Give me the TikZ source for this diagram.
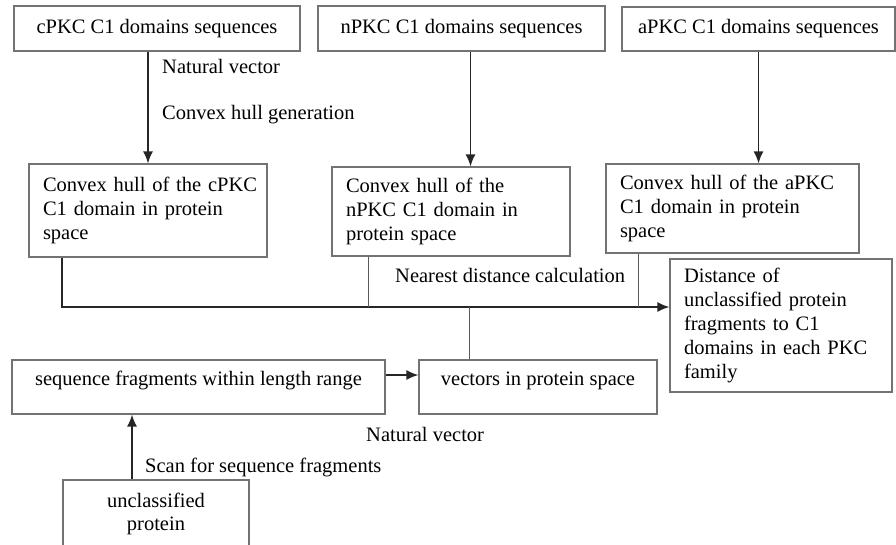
\documentclass[tikz,border=0pt]{standalone}
\usepackage{fontspec}
\setmainfont{Liberation Serif}
\usetikzlibrary{arrows.meta,calc}

\begin{document}
\begin{tikzpicture}[x=1pt,y=-1pt,font=\fontsize{20.5}{23.8}\selectfont,
  box/.style={draw=black!55,line width=1.1pt,inner xsep=14pt,inner ysep=0pt},
  lowtext/.style={text height=14pt,text depth=18pt},
  arr/.style={draw=black!85,line width=1.6pt,-{Latex[length=12pt,width=10pt]}},
  drop/.style={draw=black!65,line width=1pt},
  lbl/.style={anchor=base west,inner sep=0pt}]

\useasboundingbox (0,0) rectangle (896,544);
\clip (0,0) rectangle (896,544);

\begin{scope}
\node[box,minimum width=286,minimum height=45] (cseq) at (157,28.5) {cPKC C1 domains sequences};
\node[box,minimum width=287,minimum height=45] (nseq) at (461.5,28.5) {nPKC C1 domains sequences};
\node[box,minimum width=273,minimum height=44] (aseq) at (758.5,29) {aPKC C1 domains sequences};

\node[box,align=left,text width=210pt,minimum height=93] (chull) at (148,210.5)
  {\mbox{Convex hull of the cPKC}\\C1 domain in protein\\space};
\node[box,align=left,text width=210pt,minimum height=89] (nhull) at (451,211.5)
  {Convex hull of the\\nPKC C1 domain in\\protein space};
\node[box,align=left,text width=225pt,minimum height=89] (ahull) at (732.5,208.5)
  {\mbox{Convex hull of the aPKC}\\C1 domain in protein\\space};
\node[box,align=left,text width=194pt,minimum height=133] (dist) at (781,325.5)
  {Distance of\\unclassified protein\\fragments to C1\\\mbox{domains in each PKC}\\family};

\node[box,lowtext,minimum width=373,minimum height=54] (frag) at (198.5,387) {sequence fragments within length range};
\node[box,lowtext,minimum width=238,minimum height=54] (vec) at (538,387) {vectors in protein space};
\node[box,align=center,minimum width=186,minimum height=68] (prot) at (156,514) {unclassified\\protein};

\coordinate (bus) at (62,307);

\draw[arr] (chull.north |- cseq.south) -- (chull.north);
\draw[arr] ([xshift=9pt]nseq.south) -- ([xshift=9pt]nseq.south |- nhull.north);
\draw[arr] (aseq.south) -- (aseq.south |- ahull.north);

\draw[arr] (bus |- chull.south) -- (bus) -- (dist.west |- bus);
\draw[drop] ([xshift=-83pt]nhull.south) -- ([xshift=-83pt]nhull.south |- bus);
\draw[drop] ([xshift=-94.5pt]ahull.south) -- ([xshift=-94.5pt]ahull.south |- bus);
\draw[drop] ([xshift=-69pt]vec.north) -- ([xshift=-69pt]vec.north |- bus);

\draw[arr] ([yshift=12pt]frag.east) -- ([yshift=12pt]frag.east -| vec.west);
\draw[arr] ([xshift=-24pt]prot.north) -- ([xshift=-24pt]prot.north |- frag.south);

\node[lbl] (nv1) at (162,73) {Natural vector};
\node[lbl] (chg) at (162,119) {Convex hull generation};
\node[lbl] (ndc) at (395,282) {Nearest distance calculation};
\node[lbl] (nv2) at (366,441) {Natural vector};
\node[lbl] (scan) at (145,472) {Scan for sequence fragments};
\end{scope}

\end{tikzpicture}
\end{document}
